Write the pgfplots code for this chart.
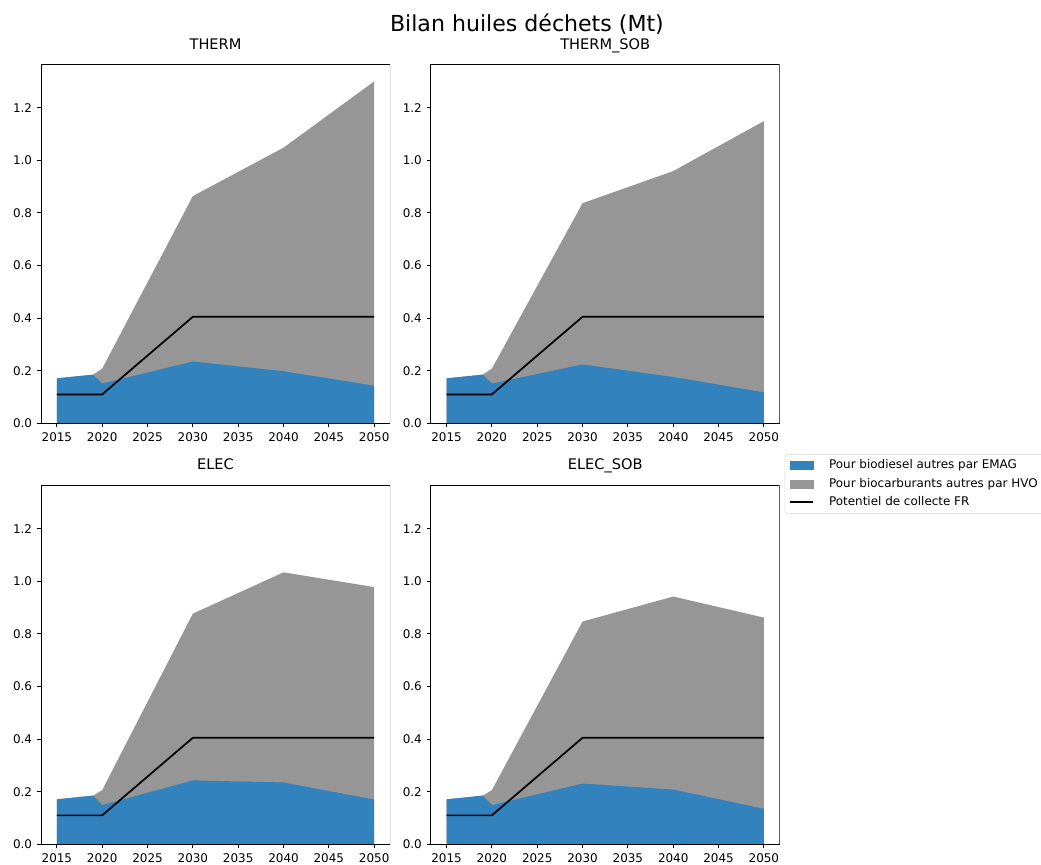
\documentclass[border=0pt]{standalone}
\usepackage{pgfplots}
\pgfplotsset{compat=1.18}
\usepackage{fontspec}
\setmainfont{DejaVu Sans}
\definecolor{cblue}{HTML}{3182BD}
\definecolor{cgray}{HTML}{969696}
\pgfplotsset{
  panel/.style={
    scale only axis, width=251.3pt, height=258.5pt,
    anchor=south west,
    xmin=2013.25, xmax=2051.75, ymin=0, ymax=1.365,
    xtick={2015,2020,...,2050}, ytick={0,0.2,...,1.2},
    axis x line*=bottom, axis y line*=left,
    separate axis lines,
    every outer x axis line/.append style={-},
    every outer y axis line/.append style={-},
    axis line style={line width=0.65pt, black},
    tick align=outside, major tick length=2.9pt,
    tick style={line width=0.65pt, black},
    ticklabel style={font=\fontsize{8.6}{10}\selectfont},
    /pgf/number format/assume math mode=true,
    xticklabel style={/pgf/number format/1000 sep={}},
    yticklabel style={/pgf/number format/.cd, fixed, fixed zerofill, precision=1},
    title style={font=\fontsize{10.5}{12}\selectfont, at={(0.5,1)}, anchor=base, yshift=5pt},
    clip=true,
  },
}
\newcommand{\frameit}{\draw[line width=0.65pt] (rel axis cs:0,0) rectangle (rel axis cs:1,1);}
\begin{document}
\begin{tikzpicture}
\useasboundingbox (0,0) rectangle (749.52pt,622.8pt);
\node[font=\fontsize{15.9}{18}\selectfont] at (379.4pt,605.5pt) {Bilan huiles déchets (Mt)};

% THERM
\begin{axis}[panel, at={(29.52pt,318pt)}, title={THERM}]
\addplot[fill=cgray, draw=none] coordinates {(2015,0.171)(2019,0.185)(2020,0.208)(2030,0.864)(2040,1.048)(2050,1.300)} \closedcycle;
\addplot[fill=cblue, draw=none] coordinates {(2015,0.171)(2019,0.185)(2020,0.151)(2030,0.235)(2040,0.198)(2050,0.143)} \closedcycle;
\addplot[black, line width=1.25pt] coordinates {(2015,0.11)(2020,0.11)(2030,0.405)(2040,0.405)(2050,0.405)};
\frameit
\end{axis}

% THERM_SOB
\begin{axis}[panel, at={(310.1pt,318pt)}, title={THERM\_SOB}]
\addplot[fill=cgray, draw=none] coordinates {(2015,0.171)(2019,0.185)(2020,0.208)(2030,0.837)(2040,0.959)(2050,1.149)} \closedcycle;
\addplot[fill=cblue, draw=none] coordinates {(2015,0.171)(2019,0.185)(2020,0.151)(2030,0.224)(2040,0.176)(2050,0.118)} \closedcycle;
\addplot[black, line width=1.25pt] coordinates {(2015,0.11)(2020,0.11)(2030,0.405)(2040,0.405)(2050,0.405)};
\frameit
\end{axis}

% ELEC
\begin{axis}[panel, at={(29.52pt,14.9pt)}, title={ELEC}]
\addplot[fill=cgray, draw=none] coordinates {(2015,0.171)(2019,0.185)(2020,0.206)(2030,0.877)(2040,1.034)(2050,0.978)} \closedcycle;
\addplot[fill=cblue, draw=none] coordinates {(2015,0.171)(2019,0.185)(2020,0.149)(2030,0.243)(2040,0.235)(2050,0.170)} \closedcycle;
\addplot[black, line width=1.25pt] coordinates {(2015,0.11)(2020,0.11)(2030,0.405)(2040,0.405)(2050,0.405)};
\frameit
\end{axis}

% ELEC_SOB
\begin{axis}[panel, at={(310.1pt,14.9pt)}, title={ELEC\_SOB},
  legend style={at={(1.014,1.087)}, anchor=north west, draw=black!15, rounded corners=2pt,
    font=\fontsize{8.6}{10}\selectfont, row sep=1.2pt, inner xsep=3pt, inner ysep=2pt},
  legend cell align=left]
\addplot[fill=cgray, draw=none, forget plot] coordinates {(2015,0.171)(2019,0.185)(2020,0.206)(2030,0.847)(2040,0.942)(2050,0.862)} \closedcycle;
\addplot[fill=cblue, draw=none, forget plot] coordinates {(2015,0.171)(2019,0.185)(2020,0.149)(2030,0.231)(2040,0.208)(2050,0.135)} \closedcycle;
\addplot[black, line width=1.25pt, forget plot] coordinates {(2015,0.11)(2020,0.11)(2030,0.405)(2040,0.405)(2050,0.405)};
\addlegendimage{legend image code/.code={\fill[cblue, sharp corners] (0pt,-2.9pt) rectangle (16.6pt,2.9pt); \path (26pt,0pt);}}
\addlegendentry{Pour biodiesel autres par EMAG}
\addlegendimage{legend image code/.code={\fill[cgray, sharp corners] (0pt,-2.9pt) rectangle (16.6pt,2.9pt); \path (26pt,0pt);}}
\addlegendentry{Pour biocarburants autres par HVO}
\addlegendimage{legend image code/.code={\draw[black, line width=1.25pt, sharp corners] (0pt,0pt) -- (16.6pt,0pt); \path (26pt,0pt);}}
\addlegendentry{Potentiel de collecte FR}
\frameit
\end{axis}
\end{tikzpicture}
\end{document}
